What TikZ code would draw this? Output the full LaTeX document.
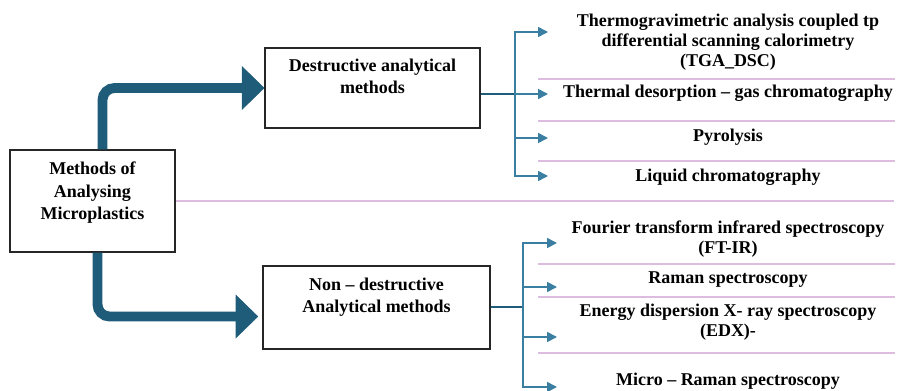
\documentclass[tikz,border=0pt]{standalone}
\usepackage{fontspec}
\setmainfont{Liberation Serif}
\usepackage{xcolor}
\usepackage{tikz}
\usetikzlibrary{positioning, arrows.meta}

\definecolor{flowblue}{HTML}{1F5C7A}
\definecolor{branchblue}{HTML}{3A7EA1}
\definecolor{rulepink}{HTML}{DDBCE0}

\begin{document}
\begin{tikzpicture}[
    box/.style={draw=black!85, line width=0.8pt},
    boxtext/.style={align=center, inner sep=0pt, font=\bfseries\fontsize{12.8}{15.5}\selectfont},
    item/.style={align=center, inner sep=0pt, font=\bfseries\fontsize{12.8}{14.2}\selectfont},
    bigarrow/.style={draw=flowblue, line width=7pt, rounded corners=0.3cm, -{Triangle[length=16pt, width=31pt, line width=0.4pt]}},
    trunk/.style={draw=flowblue, line width=2pt},
    branch/.style={draw=branchblue, line width=1.1pt, -{Triangle[length=7pt, width=7pt]}},
    sep/.style={draw=rulepink, line width=0.8pt}
]
    \useasboundingbox (0, 0) rectangle (22.425, 9.75);

    % main boxes
    \node[box, minimum width=4.125cm, minimum height=2.55cm] (root) at (2.3125, 4.725) {};
    \node[boxtext, font=\bfseries\fontsize{12.8}{16.2}\selectfont, below=0.3cm of root.north] (rootlbl) {Methods of\\Analysing\\Microplastics};
    \node[box, minimum width=5.375cm, minimum height=2cm] (destr) at (9.3125, 7.55) {};
    \node[boxtext, below=0.29cm of destr.north] (destrlbl) {Destructive analytical\\methods};
    \node[box, minimum width=5.675cm, minimum height=2.075cm] (nondestr) at (9.4125, 2.0625) {};
    \node[boxtext, below=0.315cm of nondestr.north] (nondestrlbl) {Non -- destructive\\Analytical methods};

    % thick arrows out of the root box
    \draw[bigarrow] ([xshift=0.25cm]root.north) |- (destr.west);
    \draw[bigarrow, shorten >=3pt] ([xshift=0.125cm]root.south) |- ([yshift=-0.225cm]nondestr.west);

    % separator rules
    \draw[sep] (root.east) -- ++(17.95, 0);
    \foreach \y in {7.775, 6.725, 5.725, 3.15, 2.325, 0.925}
        \draw[sep] (13.45, \y) -- (22.375, \y);

    % destructive methods
    \node[item] (tga) at (18.2, 8.7) {Thermogravimetric analysis coupled tp\\differential scanning calorimetry\\(TGA\_DSC)};
    \node[item] (tdgc) at (18.2, 7.42) {Thermal desorption -- gas chromatography};
    \node[item] (pyro) at (18.2, 6.33) {Pyrolysis};
    \node[item] (lc) at (18.2, 5.33) {Liquid chromatography};

    \coordinate (dj) at (12.875, 7.4);
    \coordinate (d1) at (13.7, 8.95);
    \coordinate (d2) at (13.7, 7.4);
    \coordinate (d3) at (13.7, 6.3);
    \coordinate (d4) at (13.7, 5.35);
    \draw[trunk] (destr.east |- dj) -- (dj);
    \draw[branch] (dj) |- (d1);
    \draw[branch] (dj) -- (d2);
    \draw[branch] (dj) |- (d3);
    \draw[branch] (dj) |- (d4);

    % non-destructive methods
    \node[item] (ftir) at (18.2, 3.78) {Fourier transform infrared spectroscopy\\(FT-IR)};
    \node[item] (raman) at (18.2, 2.76) {Raman spectroscopy};
    \node[item] (edx) at (18.2, 1.7) {Energy dispersion X- ray spectroscopy\\(EDX)-};
    \node[item] (micro) at (18.2, 0.21) {Micro -- Raman spectroscopy};

    \coordinate (nj) at (13.075, 2.075);
    \coordinate (n1) at (13.925, 3.675);
    \coordinate (n2) at (13.925, 2.575);
    \coordinate (n3) at (13.925, 1.325);
    \coordinate (n4) at (13.925, 0.075);
    \draw[trunk] (nondestr.east |- nj) -- (nj);
    \draw[branch] (nj) |- (n1);
    \draw[branch] (nj) |- (n2);
    \draw[branch] (nj) |- (n3);
    \draw[branch] (nj) |- (n4);
\end{tikzpicture}
\end{document}
